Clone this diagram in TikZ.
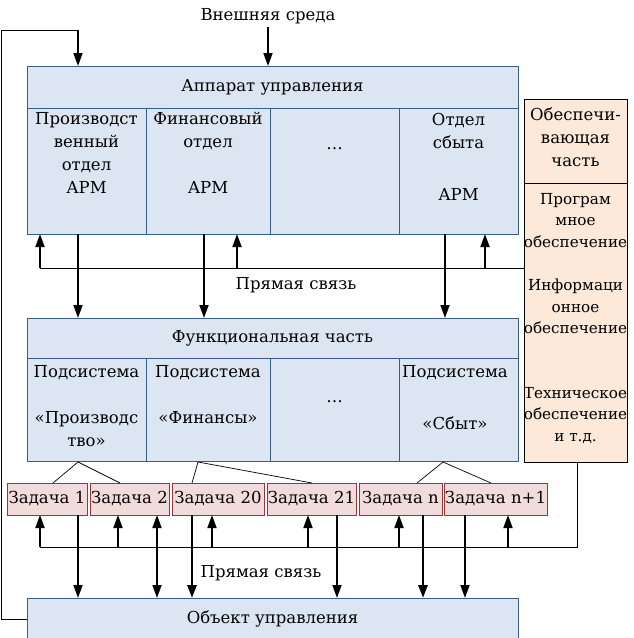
\documentclass[tikz,border=0pt]{standalone}
\usepackage{fontspec}
\setmainfont{DejaVu Serif}
\usetikzlibrary{arrows.meta,calc}
\definecolor{bfill}{HTML}{DCE6F2}
\definecolor{bdraw}{HTML}{385D8A}
\definecolor{tfill}{HTML}{F2DCDB}
\definecolor{tdraw}{HTML}{953735}
\definecolor{rfill}{HTML}{FDE9D9}
\begin{document}
\begin{tikzpicture}[x=1pt,y=-1pt,
  font=\fontsize{16.5}{23}\selectfont,
  blk/.style={draw=bdraw, fill=bfill, line width=1pt, inner sep=0pt, outer sep=0pt, anchor=north west},
  rbox/.style={draw=black, fill=rfill, line width=1pt, inner sep=0pt, outer sep=0pt, anchor=north west, minimum width=103pt},
  task/.style={draw=tdraw, fill=tfill, line width=1pt, inner sep=0pt, outer sep=0pt, anchor=north west, minimum height=32pt},
  txt/.style={align=center, inner sep=0pt},
  small/.style={font=\fontsize{15.2}{21.5}\selectfont},
  arr/.style={line width=1.8pt, -{Triangle[length=13pt,width=9pt]}},
  darr/.style={line width=1.8pt, {Triangle[length=13pt,width=9pt]}-{Triangle[length=13pt,width=9pt]}},
  thk/.style={line width=2.8pt, -{Triangle[length=13pt,width=9pt]}},
  ln/.style={line width=1pt},
  tree/.style={line width=0.7pt}]
\clip (0,0) rectangle (633,638);
\fill[white] (0,0) rectangle (633,638);

% top block
\node[blk, minimum width=491pt, minimum height=42pt] (apph) at (27,66) {Аппарат управления};
\node[blk, minimum width=119pt, minimum height=126pt] (a1) at (27,108) {};
\node[blk, minimum width=124pt, minimum height=126pt] (a2) at (146,108) {};
\node[blk, minimum width=129pt, minimum height=126pt] (a3) at (270,108) {};
\node[blk, minimum width=119pt, minimum height=126pt] (a4) at (399,108) {};
\node[txt, anchor=north] (a1t) at (86.5,112) {Производст\\венный\\отдел\\АРМ};
\node[txt, anchor=north] (a2t) at (208,112) {Финансовый\\отдел\\[23pt]АРМ};
\node[txt] (a3t) at (334.5,149) {…};
\node[txt, anchor=north] (a4t) at (458.5,113) {Отдел\\сбыта\\[29pt]АРМ};

% functional block
\node[blk, minimum width=491pt, minimum height=40pt] (fh) at (27,318) {Функциональная часть};
\node[blk, minimum width=119pt, minimum height=103pt] (f1) at (27,358) {};
\node[blk, minimum width=124pt, minimum height=103pt] (f2) at (146,358) {};
\node[blk, minimum width=129pt, minimum height=103pt] (f3) at (270,358) {};
\node[blk, minimum width=119pt, minimum height=103pt] (f4) at (399,358) {};
\node[txt, anchor=north] (f1t) at (86.5,365) {Подсистема\\[23pt]«Производс\\тво»};
\node[txt, anchor=north] (f2t) at (208,365) {Подсистема\\[23pt]«Финансы»};
\node[txt] (f3t) at (334.5,402) {…};
\node[txt, anchor=north] (f4t) at (455,365) {Подсистема\\[29pt]«Сбыт»};

% right block
\node[rbox, minimum height=84pt] (r1) at (524,99) {};
\node[rbox, minimum height=279pt] (r2) at (524,183) {};
\node[txt, anchor=north] (r1t) at (575.5,107) {Обеспечи-\\вающая\\часть};
\node[txt, small, anchor=north] (r2a) at (575.5,193) {Програм\\мное\\обеспечение};
\node[txt, small, anchor=north] (r2b) at (575.5,279) {Информаци\\онное\\обеспечение};
\node[txt, small, anchor=north] (r2c) at (575.5,387) {Техническое\\обеспечение\\и т.д.};

% tasks
\node[task, minimum width=80pt] (t1) at (7,483) {Задача 1};
\node[task, minimum width=79pt] (t2) at (90,483) {Задача 2};
\node[task, minimum width=92pt] (t3) at (172,483) {Задача 20};
\node[task, minimum width=89pt] (t4) at (267,483) {Задача 21};
\node[task, minimum width=83pt] (t5) at (359,483) {Задача n};
\node[task, minimum width=103pt] (t6) at (444,483) {Задача n+1};

% object
\node[blk, minimum width=491pt, minimum height=42pt] (obj) at (27,598) {Объект управления};

% texts
\node[txt] (ext) at (268,16) {Внешняя среда};
\node[txt] (pr1) at (296,285) {Прямая связь};
\node[txt] (pr2) at (261,573) {Прямая связь};

% coordinates
\coordinate (fbl) at (1.5,30);
\coordinate (x78) at (78,0);
\coordinate (x204) at (204,0);
\coordinate (x445) at (445,0);
\coordinate (ub1) at (40,268);
\coordinate (ub2) at (237,268);
\coordinate (ub3) at (485,268);
\coordinate (lb1) at (40,547);
\coordinate (lb2) at (577,547);
\coordinate (lu2) at (118,547);
\coordinate (lu3) at (212,547);
\coordinate (lu4) at (308,547);
\coordinate (lu5) at (399,547);
\coordinate (lu6) at (508,547);
\coordinate (x157) at (157,0);
\coordinate (x192) at (192,0);
\coordinate (x337) at (337,0);
\coordinate (x423) at (423,0);
\coordinate (x465) at (465,0);
\coordinate (tr1) at (78,462);
\coordinate (tr2) at (198,462);
\coordinate (tr3) at (443,462);
\coordinate (tt1) at (53,483);
\coordinate (tt2) at (120,483);
\coordinate (tt3) at (192,483);
\coordinate (tt4) at (312,483);
\coordinate (tt5) at (417,483);
\coordinate (tt6) at (491,483);

% feedback and external input
\draw[ln] (obj.west) -| (fbl) -- (fbl -| x78);
\draw[arr] (fbl -| x78) -- (apph.north -| x78);
\draw[arr] (ext.south) ++(0,3) -- (apph.north -| ext.south);

% upper bus
\draw[ln] (ub1) -- (ub1 -| r2.west);
\draw[arr] (ub1) -- (ub1 |- a1.south);
\draw[arr] (ub2) -- (ub2 |- a2.south);
\draw[arr] (ub3) -- (ub3 |- a4.south);
\draw[arr] (a1.south -| x78) -- (fh.north -| x78);
\draw[arr] (a2.south -| x204) -- (fh.north -| x204);
\draw[arr] (a4.south -| x445) -- (fh.north -| x445);

% tree lines
\draw[tree] (tt1) -- (tr1) -- (tt2);
\draw[tree] (tt3) -- (tr2) -- (tt4);
\draw[tree] (tt5) -- (tr3) -- (tt6);

% lower bus
\draw[ln] (lb1) -- (lb2) -- (lb2 |- r2.south);
\draw[arr] (lb1) -- (lb1 |- t1.south);
\draw[arr] (lu2) -- (lu2 |- t2.south);
\draw[arr] (lu3) -- (lu3 |- t3.south);
\draw[arr] (lu4) -- (lu4 |- t4.south);
\draw[arr] (lu5) -- (lu5 |- t5.south);
\draw[arr] (lu6) -- (lu6 |- t6.south);

% down to object
\draw[arr] (t1.south -| x78) -- (obj.north -| x78);
\draw[darr] (t2.south -| x157) -- (obj.north -| x157);
\draw[thk] (t3.south -| x192) -- (obj.north -| x192);
\draw[arr] (t4.south -| x337) -- (obj.north -| x337);
\draw[thk] (t5.south -| x423) -- (obj.north -| x423);
\draw[arr] (t6.south -| x465) -- (obj.north -| x465);
\end{tikzpicture}
\end{document}
